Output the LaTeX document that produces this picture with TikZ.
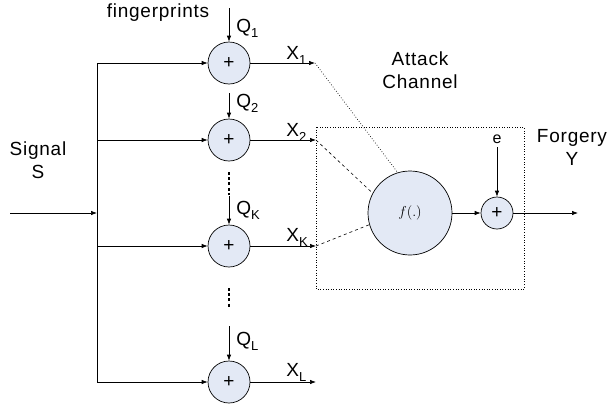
\documentclass[tikz,border=0pt]{standalone}
\usepackage{fontspec}
\setmainfont{Liberation Sans}[LetterSpace=4]
\usepackage{tikz}
\usetikzlibrary{arrows.meta}
\definecolor{adderfill}{HTML}{E3E9F5}
\newcommand{\lsub}[1]{\raisebox{-0.3em}{\fontsize{13}{13}\selectfont #1}}

\begin{document}
\begin{tikzpicture}
                [x=1pt,y=-1pt,line width=0.7pt,>={Latex[length=6pt,width=4.5pt]},
                 adder/.style={circle,draw,fill=adderfill,inner sep=0pt,minimum size=42pt,font=\fontsize{19}{19}\selectfont},
                 lbl/.style={inner sep=0pt,font=\fontsize{19}{23}\selectfont,align=center},
                 vdots/.style={line width=1.6pt,dash pattern=on 3pt off 2.2pt}]

                \useasboundingbox (0,0) rectangle (612,407);

                % adders for the fingerprints
                \node[adder] (a1) at (229,63) {+};
                \node[adder] (a2) at (229,140) {+};
                \node[adder] (ak) at (229,246) {+};
                \node[adder] (al) at (229,382) {+};

                \coordinate (q1) at (229,8);
                \coordinate (q2) at (229,93);
                \coordinate (qk) at (229,196);
                \coordinate (ql) at (229,326);

                \coordinate (b1) at (97,63);
                \coordinate (b2) at (97,140);
                \coordinate (bk) at (97,246);
                \coordinate (bl) at (97,382);
                \coordinate (bs) at (97,213);
                \coordinate (in) at (10,213);

                \coordinate (x1) at (315,63);
                \coordinate (x2) at (316,140);
                \coordinate (xk) at (316,246);
                \coordinate (xl) at (316,382);

                % attack channel
                \node[circle,draw,fill=adderfill,minimum size=84pt,inner sep=0pt,font=\fontsize{14}{14}\selectfont] (f) at (410,213) {$f(.)$};
                \node[adder,minimum size=32pt] (ao) at (497,213) {+};
                \coordinate (e) at (497,147);
                \coordinate (y) at (578,213);
                \draw[dotted,line width=0.6pt] (316,127) rectangle (524,289);

                \node[lbl,anchor=base] (fp) at (158,17) {fingerprints};
                \node[lbl,anchor=base] (sig) at (38,178) {Signal\\S};
                \node[lbl,anchor=base] (att) at (420,88) {Attack\\Channel};
                \node[lbl,anchor=base] (fy) at (572,165) {Forgery\\Y};
                \node[lbl,anchor=base,font=\fontsize{16}{16}\selectfont] (el) at (497,143) {e};

                \node[lbl,anchor=base west] (lq1) at (236,32) {Q\lsub{1}};
                \node[lbl,anchor=base west] (lq2) at (236,107) {Q\lsub{2}};
                \node[lbl,anchor=base west] (lqk) at (236,214) {Q\lsub{K}};
                \node[lbl,anchor=base west] (lql) at (236,345) {Q\lsub{L}};
                \node[lbl,anchor=base west] (lx1) at (286,59) {X\lsub{1}};
                \node[lbl,anchor=base west] (lx2) at (286,136) {X\lsub{2}};
                \node[lbl,anchor=base west] (lxk) at (286,241) {X\lsub{K}};
                \node[lbl,anchor=base west] (lxl) at (286,376) {X\lsub{L}};

                \draw (b1) -- (bl);
                \draw[->] (in) -- (bs);
                \draw[->] (b1) -- (a1);
                \draw[->] (b2) -- (a2);
                \draw[->] (bk) -- (ak);
                \draw[->] (bl) -- (al);

                \draw[->] (q1) -- (a1);
                \draw[->] (q2) -- (a2);
                \draw[->] (qk) -- (ak);
                \draw[->] (ql) -- (al);

                \draw[->] (a1) -- (x1);
                \draw[->] (a2) -- (x2);
                \draw[->] (ak) -- (xk);
                \draw[->] (al) -- (xl);

                \draw[vdots] (229,172) -- (229,195);
                \draw[vdots] (229,288) -- (229,307);

                \draw[dotted,line width=0.7pt] (x1) -- (f.107);
                \draw[dashed,line width=0.6pt] (x2) -- (f.152);
                \draw[dashed,line width=0.6pt] (xk) -- (f.196);

                \draw[->] (f) -- (ao);
                \draw[->] (e) -- (ao);
                \draw[->] (ao) -- (y);
            \end{tikzpicture}
\end{document}
